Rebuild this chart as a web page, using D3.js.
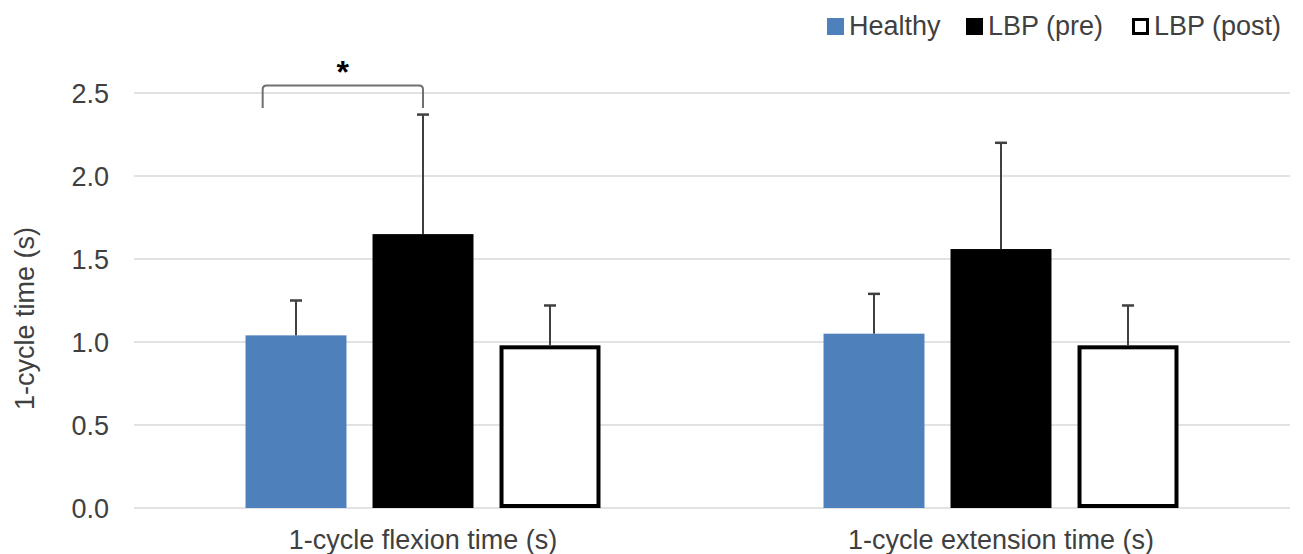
<!DOCTYPE html>
<html>
<head>
<meta charset="utf-8">
<script src="https://cdn.jsdelivr.net/npm/d3@7"></script>
<style>
  html, body { margin: 0; padding: 0; background: #fff; }
  svg { display: block; font-family: "Liberation Sans", Arial, sans-serif; }
</style>
</head>
<body>
<svg id="chart" width="1303" height="554"></svg>
<script>
// ---- data ----
const categories = ["1-cycle flexion time (s)", "1-cycle extension time (s)"];
const seriesNames = ["Healthy", "LBP (pre)", "LBP (post)"];
const healthyMean = [1.04, 1.05];
const lbpPreMean  = [1.65, 1.56];
const lbpPostMean = [0.98, 0.98];
const healthySD   = [0.21, 0.24];
const lbpPreSD    = [0.72, 0.64];
const lbpPostSD   = [0.24, 0.24];
const yTicks = [0, 0.5, 1.0, 1.5, 2.0, 2.5];
const yTitle = "1-cycle time (s)";
const sigLabel = "*";

(function () {
// ---- build table ----
const meansBySeries = [healthyMean, lbpPreMean, lbpPostMean];
const sdBySeries = [healthySD, lbpPreSD, lbpPostSD];
const rows = [];
categories.forEach((c, ci) => {
  seriesNames.forEach((s, si) => {
    rows.push({ cat: c, series: s, mean: meansBySeries[si][ci], sd: sdBySeries[si][ci] });
  });
});

const svg = d3.select("#chart");
const pLeft = 134, pRight = 1290, pTop = 93, pBottom = 508;

const y = d3.scaleLinear().domain([0, 2.5]).range([pBottom, pTop]);
const x0 = d3.scaleBand().domain(categories).range([pLeft, pRight]).padding(0);
const x1 = d3.scaleBand().domain(seriesNames).range([0, x0.bandwidth()])
  .paddingInner(0.205).paddingOuter(0.878);

const fills = { "Healthy": "#4e80bc", "LBP (pre)": "#000000", "LBP (post)": "#ffffff" };

// gridlines
svg.append("g").selectAll("line").data(yTicks).join("line")
  .attr("x1", pLeft).attr("x2", pRight)
  .attr("y1", d => y(d)).attr("y2", d => y(d))
  .attr("stroke", "#d9d9d9").attr("stroke-width", 1.5);

// y axis labels
const yAxis = d3.axisLeft(y).tickValues(yTicks).tickFormat(d3.format(".1f")).tickSize(0).tickPadding(0);
const yg = svg.append("g").attr("transform", `translate(${pLeft - 25},0)`).call(yAxis);
yg.select(".domain").remove();
yg.selectAll("text").attr("font-size", 27).attr("fill", "#404040")
  .attr("font-family", "Liberation Sans, Arial, sans-serif").attr("dy", "0.35em");

// y title
svg.append("text")
  .attr("transform", `translate(34, ${(pTop + pBottom) / 2 + 18}) rotate(-90)`)
  .attr("text-anchor", "middle")
  .attr("font-size", 27).attr("fill", "#404040")
  .text(yTitle);

// x labels
const xAxis = d3.axisBottom(x0).tickSize(0).tickPadding(0);
const xg = svg.append("g").attr("transform", `translate(0,${pBottom + 22})`).call(xAxis);
xg.select(".domain").remove();
xg.selectAll("text").attr("font-size", 27).attr("fill", "#404040")
  .attr("font-family", "Liberation Sans, Arial, sans-serif").attr("dy", "0.71em");

// bars
const bw = x1.bandwidth();
const bars = svg.append("g");
rows.forEach(r => {
  const bx = x0(r.cat) + x1(r.series);
  if (r.series === "LBP (post)") {
    bars.append("rect")
      .attr("x", bx + 2).attr("y", y(r.mean) + 2)
      .attr("width", bw - 4).attr("height", y(0) - y(r.mean) - 4)
      .attr("fill", "#fff").attr("stroke", "#000").attr("stroke-width", 4);
  } else {
    bars.append("rect")
      .attr("x", bx).attr("y", y(r.mean))
      .attr("width", bw).attr("height", y(0) - y(r.mean))
      .attr("fill", fills[r.series]);
  }
  // error bar (upper)
  const cx = bx + bw / 2;
  bars.append("line").attr("x1", cx).attr("x2", cx)
    .attr("y1", y(r.mean)).attr("y2", y(r.mean + r.sd))
    .attr("stroke", "#404040").attr("stroke-width", 2);
  bars.append("line").attr("x1", cx - 6).attr("x2", cx + 6)
    .attr("y1", y(r.mean + r.sd)).attr("y2", y(r.mean + r.sd))
    .attr("stroke", "#404040").attr("stroke-width", 2.5);
});

// significance bracket (flexion: Healthy vs LBP pre)
const bxL = x0(categories[0]) + x1("Healthy") + bw * 0.17;
const bxR = x0(categories[0]) + x1("LBP (pre)") + bw / 2;
const yTopB = y(2.545), yLeg = y(2.41), rr = 4;
svg.append("path")
  .attr("d", `M${bxL},${yLeg} V${yTopB + rr} Q${bxL},${yTopB} ${bxL + rr},${yTopB} H${bxR - rr} Q${bxR},${yTopB} ${bxR},${yTopB + rr} V${yLeg}`)
  .attr("fill", "none").attr("stroke", "#707070").attr("stroke-width", 2);
svg.append("text")
  .attr("x", (bxL + bxR) / 2).attr("y", yTopB - 3)
  .attr("text-anchor", "middle").attr("font-size", 32).attr("font-weight", "bold")
  .attr("fill", "#000").text(sigLabel);

// legend
const legendX = [827, 966, 1132];
const lg = svg.append("g");
seriesNames.forEach((s, i) => {
  const g = lg.append("g").attr("transform", `translate(${legendX[i]},0)`);
  if (s === "LBP (post)") {
    g.append("rect").attr("x", 1.5).attr("y", 19.5).attr("width", 14).attr("height", 14)
      .attr("fill", "#fff").attr("stroke", "#000").attr("stroke-width", 3);
  } else {
    g.append("rect").attr("x", 0).attr("y", 18).attr("width", 17).attr("height", 17)
      .attr("fill", fills[s]);
  }
  g.append("text").attr("x", 22).attr("y", 35)
    .attr("font-size", 27).attr("fill", "#404040").text(s);
});
})();
</script>
</body>
</html>
